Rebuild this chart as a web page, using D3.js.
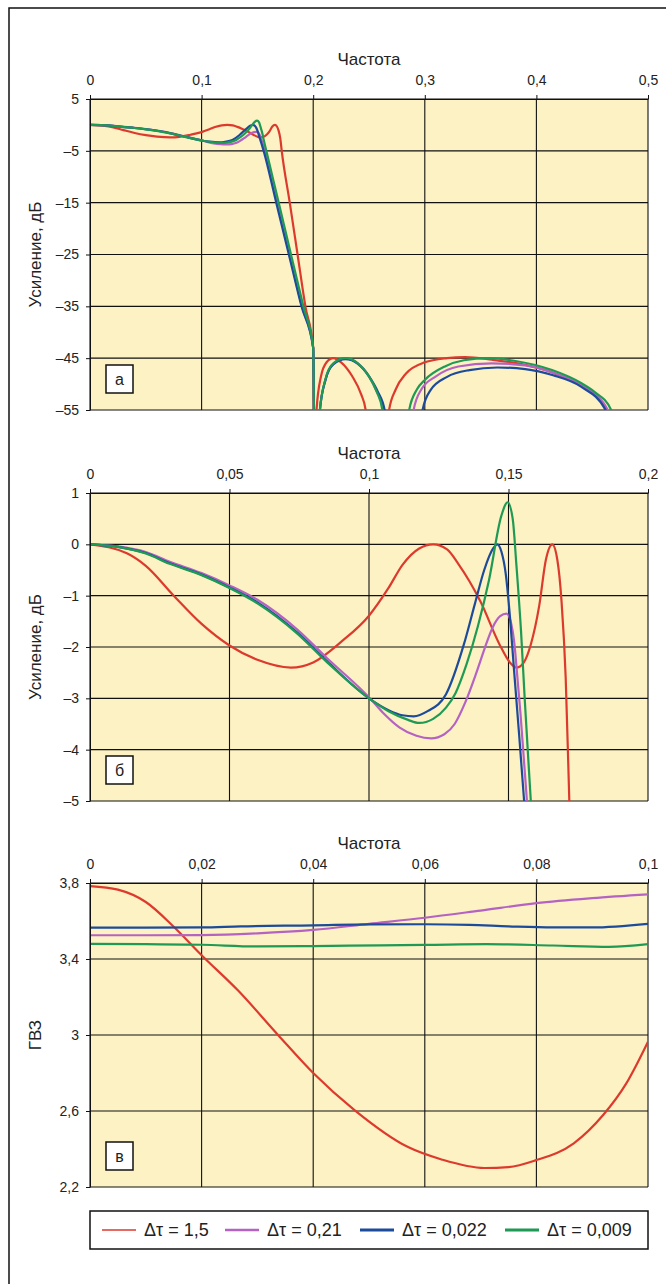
<!DOCTYPE html>
<html>
<head>
<meta charset="utf-8">
<script src="https://cdn.jsdelivr.net/npm/d3@7"></script>
<style>
  body { margin: 0; background: #fff; }
  svg text { font-family: "Liberation Sans", Arial, sans-serif; fill: #222; }
</style>
</head>
<body>
<svg id="chart" width="666" height="1284"></svg>
<script>
// series
const seriesNames = ["Δτ = 1,5", "Δτ = 0,21", "Δτ = 0,022", "Δτ = 0,009"];
const seriesColors = ["#dd3a2e", "#b563c2", "#1d4b9b", "#1f9a55"];

const gain15 = [[0,0],[0.0134,-0.18],[0.02,-0.42],[0.03,-1.0],[0.04,-1.55],[0.05,-1.97],[0.06,-2.25],[0.072,-2.4],[0.08,-2.3],[0.09,-1.9],[0.1,-1.39],[0.107,-0.85],[0.112,-0.4],[0.118,-0.08],[0.123,0],[0.128,-0.1],[0.132,-0.38],[0.136,-0.72],[0.14,-1.12],[0.1467,-1.94],[0.1505,-2.3],[0.153,-2.4],[0.1555,-2.3],[0.158,-1.95],[0.161,-1.2],[0.1634,-0.3],[0.1657,0],[0.1675,-0.3],[0.169,-1.1],[0.1705,-2.6],[0.1718,-5],[0.179,-15],[0.186,-25],[0.193,-35],[0.2,-43],[0.2015,-70],[0.203,-55],[0.207,-48.5],[0.212,-45.8],[0.218,-45],[0.225,-45.8],[0.235,-48.5],[0.243,-52],[0.247,-55],[0.25,-65],[0.265,-65],[0.268,-55],[0.274,-51],[0.283,-48],[0.3,-45.8],[0.32,-45],[0.336,-44.8],[0.36,-45.3],[0.39,-46.3],[0.415,-47.8],[0.44,-50.3],[0.455,-52.6],[0.463,-55],[0.47,-62]];
const gain021 = [[0,0],[0.01,-0.04],[0.02,-0.15],[0.0286,-0.34],[0.04,-0.56],[0.05,-0.8],[0.06,-1.08],[0.0743,-1.66],[0.085,-2.22],[0.1,-2.98],[0.105,-3.28],[0.111,-3.57],[0.117,-3.73],[0.1223,-3.78],[0.127,-3.7],[0.1307,-3.5],[0.1345,-3.08],[0.1383,-2.53],[0.1415,-2.02],[0.1444,-1.61],[0.147,-1.4],[0.1493,-1.35],[0.151,-1.55],[0.152,-1.88],[0.1532,-2.6],[0.1543,-3.3],[0.1566,-5],[0.1677,-15],[0.1788,-25],[0.1899,-35],[0.2,-43],[0.2015,-70],[0.206,-55],[0.211,-49.2],[0.218,-46.1],[0.229,-45.1],[0.24,-46],[0.25,-48.5],[0.257,-51.5],[0.263,-55],[0.267,-65],[0.286,-65],[0.29,-55],[0.297,-51],[0.31,-48.5],[0.33,-46.6],[0.36,-46],[0.39,-46.4],[0.415,-47.8],[0.44,-50.2],[0.464,-55],[0.47,-62]];
const gain0022 = [[0,0],[0.01,-0.05],[0.02,-0.17],[0.0286,-0.37],[0.04,-0.59],[0.05,-0.84],[0.06,-1.13],[0.0743,-1.72],[0.085,-2.28],[0.1,-3.0],[0.107,-3.23],[0.112,-3.33],[0.116,-3.35],[0.121,-3.25],[0.1276,-2.92],[0.134,-1.95],[0.138,-1.15],[0.1413,-0.5],[0.1445,-0.08],[0.146,0],[0.1475,-0.15],[0.149,-0.57],[0.1505,-1.4],[0.152,-2.46],[0.1538,-3.7],[0.1556,-5],[0.1669,-15],[0.1782,-25],[0.1895,-35],[0.2,-43],[0.2015,-70],[0.206,-55],[0.211,-49.2],[0.218,-46.2],[0.229,-45.2],[0.24,-46.1],[0.25,-48.5],[0.258,-51.5],[0.264,-55],[0.268,-65],[0.294,-65],[0.298,-55],[0.305,-51.2],[0.32,-48.6],[0.34,-47.3],[0.365,-46.8],[0.39,-47.1],[0.415,-48.3],[0.44,-50.5],[0.462,-55],[0.47,-62]];
const gain0009 = [[0,0],[0.01,-0.05],[0.02,-0.18],[0.0286,-0.38],[0.04,-0.6],[0.05,-0.85],[0.06,-1.15],[0.0743,-1.74],[0.085,-2.3],[0.1,-3.0],[0.107,-3.25],[0.114,-3.42],[0.118,-3.48],[0.123,-3.4],[0.1276,-3.18],[0.131,-2.9],[0.135,-2.33],[0.139,-1.6],[0.143,-0.7],[0.1474,0.55],[0.1497,0.82],[0.1515,0.5],[0.1528,-0.38],[0.1545,-1.7],[0.1558,-3],[0.158,-5],[0.1691,-15],[0.1801,-25],[0.1912,-35],[0.2,-43],[0.2015,-70],[0.206,-55],[0.211,-49],[0.218,-46],[0.229,-45],[0.24,-46],[0.25,-48.5],[0.257,-51.5],[0.262,-55],[0.266,-65],[0.282,-65],[0.286,-55],[0.293,-51],[0.3,-49.2],[0.318,-46.6],[0.335,-45.4],[0.357,-45],[0.38,-45.5],[0.414,-47.3],[0.44,-49.8],[0.452,-51.5],[0.467,-55],[0.475,-62]];

// group delay (panel в)
const gvz15 = [[0,3.784],[0.005,3.765],[0.01,3.7],[0.015,3.57],[0.02,3.42],[0.0265,3.235],[0.0337,3.0],[0.04,2.8],[0.0474,2.605],[0.057,2.41],[0.063,2.345],[0.0707,2.3],[0.075,2.305],[0.0798,2.34],[0.0867,2.43],[0.092,2.58],[0.096,2.74],[0.1,2.965]];
const gvz021 = [[0,3.525],[0.01,3.525],[0.02,3.526],[0.03,3.535],[0.04,3.553],[0.05,3.585],[0.06,3.617],[0.07,3.655],[0.08,3.694],[0.09,3.72],[0.1,3.74]];
const gvz0022 = [[0,3.565],[0.01,3.565],[0.02,3.566],[0.027,3.572],[0.04,3.577],[0.05,3.582],[0.06,3.583],[0.068,3.58],[0.075,3.572],[0.083,3.566],[0.09,3.566],[0.1,3.585]];
const gvz0009 = [[0,3.48],[0.01,3.478],[0.02,3.475],[0.03,3.466],[0.04,3.468],[0.052,3.472],[0.06,3.474],[0.071,3.478],[0.083,3.471],[0.093,3.464],[0.1,3.478]];

// ticks
const xTicksA = [0, 0.1, 0.2, 0.3, 0.4, 0.5];
const yTicksA = [5, -5, -15, -25, -35, -45, -55];
const xTicksB = [0, 0.05, 0.1, 0.15, 0.2];
const yTicksB = [1, 0, -1, -2, -3, -4, -5];
const xTicksC = [0, 0.02, 0.04, 0.06, 0.08, 0.1];
const yTicksC = [3.8, 3.4, 3, 2.6, 2.2];

const svg = d3.select("#chart");
const left = 90, right = 648;

// outer frame (right/bottom edges run off the page)
svg.append("rect")
  .attr("x", 9).attr("y", 8)
  .attr("width", 720).attr("height", 1320)
  .attr("fill", "none").attr("stroke", "#111").attr("stroke-width", 1.5);

const fmt = v => String(+v.toFixed(3)).replace(".", ",").replace("-", "–");

function drawPanel(cfg) {
  const x = d3.scaleLinear().domain(d3.extent(cfg.xTicks)).range([left, right]);
  const y = d3.scaleLinear().domain(d3.extent(cfg.yTicks)).range([cfg.bottom, cfg.top]);
  const g = svg.append("g");

  g.append("rect")
    .attr("x", left).attr("y", cfg.top)
    .attr("width", right - left).attr("height", cfg.bottom - cfg.top)
    .attr("fill", "#fcf2c3");

  g.append("clipPath").attr("id", "clip-" + cfg.id)
    .append("rect")
    .attr("x", left).attr("y", cfg.top)
    .attr("width", right - left).attr("height", cfg.bottom - cfg.top);

  // grid
  g.append("g").selectAll("line").data(cfg.xTicks).join("line")
    .attr("x1", d => x(d)).attr("x2", d => x(d))
    .attr("y1", cfg.top).attr("y2", cfg.bottom)
    .attr("stroke", "#111").attr("stroke-width", 1.1);
  g.append("g").selectAll("line").data(cfg.yTicks).join("line")
    .attr("x1", left).attr("x2", right)
    .attr("y1", d => y(d)).attr("y2", d => y(d))
    .attr("stroke", "#111").attr("stroke-width", 1.1);

  const line = d3.line().x(d => x(d[0])).y(d => y(d[1])).curve(d3.curveMonotoneX);
  g.append("g").attr("clip-path", `url(#clip-${cfg.id})`)
    .selectAll("path").data(cfg.series).join("path")
    .attr("d", d => line(d))
    .attr("fill", "none")
    .attr("stroke", (d, i) => seriesColors[i])
    .attr("stroke-width", 2.2)
    .attr("stroke-linejoin", "round");

  // axes
  const xAxis = g.append("g").attr("transform", `translate(0,${cfg.top})`)
    .call(d3.axisTop(x).tickValues(cfg.xTicks).tickFormat(fmt)
      .tickSize(4).tickSizeOuter(0).tickPadding(10));
  const yAxis = g.append("g").attr("transform", `translate(${left},0)`)
    .call(d3.axisLeft(y).tickValues(cfg.yTicks).tickFormat(fmt)
      .tickSize(4).tickSizeOuter(0).tickPadding(7));
  [xAxis, yAxis].forEach(a => {
    a.selectAll("path,line").attr("stroke", "#111");
    a.selectAll("text").attr("font-size", 14).attr("fill", "#222")
      .attr("font-family", '"Liberation Sans", Arial, sans-serif');
  });

  g.append("text")
    .attr("x", (left + right) / 2).attr("y", cfg.top - 34)
    .attr("text-anchor", "middle").attr("font-size", 17)
    .text("Частота");

  g.append("text")
    .attr("transform", `translate(35,${(cfg.top + cfg.bottom) / 2}) rotate(-90)`)
    .attr("text-anchor", "middle").attr("dy", "0.35em").attr("font-size", 17)
    .text(cfg.yLabel);

  g.append("rect")
    .attr("x", 106).attr("y", cfg.bottom - 45)
    .attr("width", 27).attr("height", 28)
    .attr("fill", "#fff").attr("stroke", "#111").attr("stroke-width", 1.5);
  g.append("text")
    .attr("x", 119.5).attr("y", cfg.bottom - 31).attr("dy", "0.35em")
    .attr("text-anchor", "middle").attr("font-size", 16)
    .text(cfg.letter);
}

drawPanel({ id: "a", top: 99, bottom: 410, xTicks: xTicksA, yTicks: yTicksA,
  series: [gain15, gain021, gain0022, gain0009], yLabel: "Усиление, дБ", letter: "а" });
drawPanel({ id: "b", top: 493, bottom: 801, xTicks: xTicksB, yTicks: yTicksB,
  series: [gain15, gain021, gain0022, gain0009], yLabel: "Усиление, дБ", letter: "б" });
drawPanel({ id: "c", top: 883, bottom: 1187, xTicks: xTicksC, yTicks: yTicksC,
  series: [gvz15, gvz021, gvz0022, gvz0009], yLabel: "ГВЗ", letter: "в" });

// legend
const legend = svg.append("g");
legend.append("rect")
  .attr("x", left).attr("y", 1211).attr("width", right - left).attr("height", 38)
  .attr("fill", "#fff").attr("stroke", "#111").attr("stroke-width", 1.5);
const legendX = [102, 225, 360, 505];
const legendW = [1.5, 2.5, 3, 3];
const items = legend.selectAll("g.item").data(seriesNames).join("g")
  .attr("class", "item")
  .attr("transform", (d, i) => `translate(${legendX[i]},1230)`);
items.append("line").attr("x1", 0).attr("x2", 34)
  .attr("stroke", (d, i) => seriesColors[i])
  .attr("stroke-width", (d, i) => legendW[i]);
items.append("text").attr("x", 42).attr("dy", "0.35em").attr("font-size", 18)
  .text(d => d);
</script>
</body>
</html>
